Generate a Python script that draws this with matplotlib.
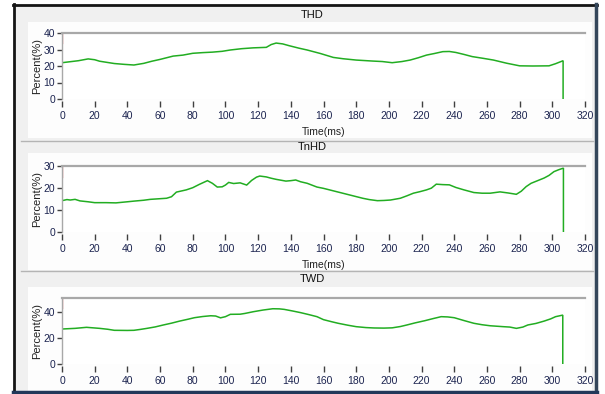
import matplotlib.pyplot as plt
from matplotlib.lines import Line2D
from matplotlib.patches import Rectangle

# ==========================
# Datos de las tres curvas (ms, %)
# ==========================

tiempo_thd = [0, 5, 10, 16, 20, 23, 32, 38, 44, 50, 55, 60, 68, 74, 80, 86, 92, 98,
              103, 110, 117, 125, 128, 131, 135, 139, 145, 150, 158, 166, 172, 180,
              190, 196, 202, 208, 213, 218, 223, 228, 233, 237, 241, 246, 251, 258,
              264, 272, 280, 288, 298, 302, 306.6, 306.6]
thd = [22.0, 22.6, 23.2, 24.3, 23.8, 22.9, 21.5, 21.0, 20.6, 21.6, 22.9, 24.0, 26.0,
       26.6, 27.7, 28.1, 28.4, 28.9, 29.7, 30.5, 31.0, 31.3, 33.0, 33.9, 33.4, 32.3,
       30.8, 29.7, 27.6, 25.2, 24.4, 23.6, 23.0, 22.7, 22.0, 22.7, 23.6, 25.0, 26.6,
       27.6, 28.7, 28.8, 28.2, 27.0, 25.7, 24.6, 23.6, 21.7, 20.1, 20.0, 20.1, 21.4,
       23.2, 0]

tiempo_tnhd = [0, 3, 5, 8, 11, 16, 20, 27, 33, 40, 44, 50, 54, 60, 64, 67, 70, 76, 80,
               84, 89, 92, 95, 98, 100, 102, 105, 109, 113, 116, 119, 121, 125, 128,
               131, 134, 137, 140, 143, 146, 150, 156, 160, 168, 176, 184, 188, 193,
               197, 201, 207, 211, 215, 219, 223, 226, 229, 233, 237, 241, 246, 252,
               257, 262, 268, 273, 278, 281, 284, 287, 291, 295, 298, 301, 304, 306.8,
               306.8]
tnhd = [14.1, 14.6, 14.4, 14.7, 14.0, 13.6, 13.2, 13.2, 13.1, 13.6, 13.9, 14.3, 14.7,
        15.0, 15.2, 15.9, 18.0, 19.0, 20.0, 21.5, 23.2, 22.0, 20.3, 20.4, 21.2, 22.4,
        21.9, 22.2, 21.2, 23.3, 24.8, 25.3, 24.9, 24.3, 23.8, 23.4, 23.0, 23.2, 23.5,
        22.7, 22.0, 20.3, 19.7, 18.2, 16.7, 15.2, 14.6, 14.1, 14.2, 14.4, 15.2, 16.3,
        17.5, 18.2, 19.0, 19.8, 21.6, 21.4, 21.3, 20.1, 19.0, 17.8, 17.5, 17.5, 18.1,
        17.6, 17.0, 18.4, 20.5, 22.0, 23.2, 24.4, 25.6, 27.3, 28.2, 28.9, 0]

tiempo_twd = [0, 8, 15, 23, 28, 32, 40, 44, 48, 52, 57, 62, 67, 72, 77, 81, 86, 91, 94,
              97, 100, 103, 109, 112, 117, 123, 129, 133, 136, 141, 146, 151, 156, 160,
              165, 169, 175, 180, 186, 191, 197, 202, 207, 211, 216, 222, 227, 232, 236,
              240, 246, 252, 257, 262, 270, 274, 278, 282, 285, 290, 295, 299, 302,
              306.4, 306.4]
twd = [26.7, 27.2, 28.0, 27.2, 26.5, 25.7, 25.6, 25.7, 26.4, 27.2, 28.3, 29.8, 31.2,
       32.8, 34.2, 35.4, 36.3, 36.9, 36.7, 35.3, 36.2, 38.0, 38.1, 38.7, 40.0, 41.3,
       42.3, 42.2, 41.8, 40.6, 39.3, 37.8, 36.2, 33.9, 32.3, 31.1, 29.6, 28.5, 27.8,
       27.5, 27.4, 27.6, 28.6, 29.8, 31.4, 33.1, 34.7, 36.2, 36.0, 35.4, 33.2, 31.1,
       30.0, 29.2, 28.5, 28.2, 27.2, 28.2, 29.8, 31.0, 32.8, 34.5, 36.2, 37.4, 0]

# trazo rojo que asoma pegado al eje en t = 0
rojo_thd = [34, 40]
rojo_tnhd = [25, 30]
rojo_twd = [42.8, 50.8]

titulos = ["THD", "TnHD", "TWD"]
limites_y = [40, 30, 50.8]
marcas_y = [[0, 10, 20, 30, 40], [0, 10, 20, 30], [0, 20, 40]]
marcas_x = list(range(0, 321, 20))

ANCHO, ALTO = 605, 394
FUENTE = ['Liberation Sans Narrow', 'Liberation Sans', 'DejaVu Sans']
VERDE = '#22ad22'
AZUL_TEXTO = '#1c2450'

def fx(x):
    return x / ANCHO

def fy(y):
    return 1 - y / ALTO

# ==========================
# Marco de la ventana
# ==========================

fig = plt.figure(figsize=(ANCHO / 100, ALTO / 100), dpi=100)
fig.patch.set_facecolor('white')

def rect(x0, y0, x1, y1, color, z=-10):
    fig.add_artist(Rectangle((fx(x0), fy(y1)), fx(x1) - fx(x0), fy(y0) - fy(y1),
                             transform=fig.transFigure, facecolor=color,
                             edgecolor='none', zorder=z))

def linea(xs, ys, color, lw, z=10):
    fig.add_artist(Line2D([fx(x) for x in xs], [fy(y) for y in ys],
                          transform=fig.transFigure, color=color, lw=lw, zorder=z))

rect(14, 5, 596, 392, '#f0f0f0')
# zonas blancas de cada grafica (debajo de la cabecera gris)
for y0, y1 in [(22, 138), (153, 270), (287, 391)]:
    rect(28, y0, 592, y1, '#fdfdfd', z=-9)

# separadores entre graficas
for y in [140.5, 271]:
    linea([21, 593], [y, y], '#b4b4b4', 1.0, z=-8)

# ==========================
# Tres graficas apiladas
# ==========================

arriba = [33, 165.7, 297.7]
alto_ejes = 66
cabeceras = [14.5, 147, 279]
series = [(tiempo_thd, thd, rojo_thd), (tiempo_tnhd, tnhd, rojo_tnhd),
          (tiempo_twd, twd, rojo_twd)]

for i in range(3):
    top = arriba[i]
    ax = fig.add_axes([fx(62), fy(top + alto_ejes), fx(585) - fx(62), alto_ejes / ALTO])
    ax.set_facecolor('white')

    t, v, rojo = series[i]
    ax.plot(t, v, color=VERDE, lw=1.1, solid_joinstyle='miter')
    ax.plot([0, 0], rojo, color='#e04848', lw=1.0, alpha=0.8)

    ax.set_xlim(0, 320)
    ax.set_ylim(0, limites_y[i])
    ax.set_xticks(marcas_x)
    ax.set_yticks(marcas_y[i])

    for lado in ['right', 'bottom']:
        ax.spines[lado].set_visible(False)
    ax.spines['bottom'].set_position(('outward', 1.5))
    ax.spines['top'].set_color('#a8a8a8')
    ax.spines['top'].set_linewidth(1.6)
    ax.spines['left'].set_color('#a8a8a8')
    ax.spines['left'].set_linewidth(1.0)

    ax.tick_params(axis='x', direction='out', length=4.3, width=1.0, color='#404040',
                   pad=3.0, labelsize=7.5, labelcolor=AZUL_TEXTO)
    ax.tick_params(axis='y', direction='out', length=3.6, width=1.0, color='#404040',
                   pad=1.5, labelsize=7.5, labelcolor=AZUL_TEXTO)
    for lab in ax.get_xticklabels() + ax.get_yticklabels():
        lab.set_family(FUENTE)

    ax.set_xlabel("Time(ms)", fontsize=7.5, family=FUENTE, color='#202020', va='center')
    ax.xaxis.set_label_coords(0.5, -0.5)
    ax.set_ylabel("Percent(%)", fontsize=8, family=FUENTE, color='#202020',
                  va='center', ha='center')
    ax.yaxis.set_label_coords(-0.048, 0.5)

    fig.text(fx(312), fy(cabeceras[i]), titulos[i], ha='center', va='center',
             fontsize=8, family=FUENTE, color='#101010')

# bordes exteriores encima de todo
linea([13.5, 13.5], [4, 393], '#151515', 2.0, z=20)
linea([13, 597], [5, 5], '#151515', 2.0, z=20)
linea([595.5, 595.5], [4, 393], '#34465a', 2.5, z=20)
linea([13, 597], [392, 392], '#22385a', 2.5, z=20)

fig.savefig("out.png", dpi=100)
